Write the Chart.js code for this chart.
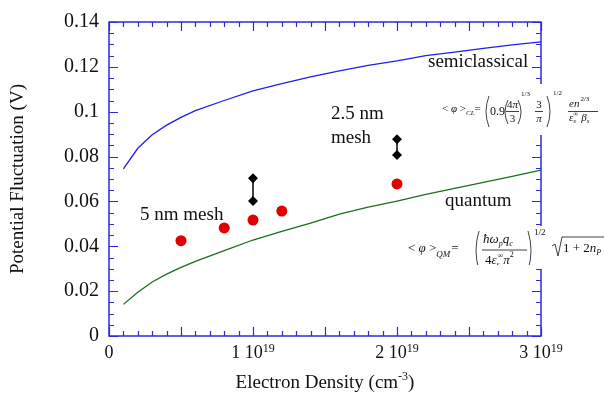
<!DOCTYPE html>
<html>
<head>
<meta charset="utf-8">
<script src="https://cdn.jsdelivr.net/npm/chart.js@4"></script>
<style>
  html, body { margin: 0; padding: 0; background: #fff; }
  #wrap { width: 605px; height: 400px; }
</style>
</head>
<body>
<div id="wrap"><canvas id="fluct"></canvas></div>
<script>
// electron density in units of 1e19 cm^-3
const density = [0.1, 0.2, 0.3, 0.4, 0.5, 0.6, 0.8, 1.0, 1.2, 1.4, 1.6, 1.8, 2.0, 2.2, 2.4, 2.6, 2.8, 3.0];
const semiclassical = [0.0745, 0.0837, 0.0897, 0.0940, 0.0975, 0.1005, 0.1050, 0.1093, 0.1125, 0.1155, 0.1182, 0.1207, 0.1227, 0.1250, 0.1266, 0.1282, 0.1298, 0.1311];
const quantum = [0.0141, 0.0195, 0.0241, 0.0276, 0.0306, 0.0333, 0.0381, 0.0428, 0.0467, 0.0503, 0.0543, 0.0575, 0.0601, 0.0631, 0.0658, 0.0685, 0.0712, 0.0740];

// 5 nm mesh simulation
const mesh5Density = [0.5, 0.8, 1.0, 1.2, 2.0];
const mesh5 = [0.0425, 0.0482, 0.0517, 0.0557, 0.0678];

// 2.5 nm mesh simulation (two runs per density)
const mesh25Density = [1.0, 2.0];
const mesh25Low = [0.0602, 0.0807];
const mesh25High = [0.0703, 0.0877];

const xTicks = [0, 1, 2, 3];

const SERIF = '"Liberation Serif", "Times New Roman", serif';
const AXIS_BLUE = '#2a2ae0';
const INK = '#111';

const pairs = (xs, ys) => xs.map((x, i) => ({ x, y: ys[i] }));

const mesh25Sets = mesh25Density.map((d, i) => ({
    data: [{ x: d, y: mesh25Low[i] }, { x: d, y: mesh25High[i] }],
    showLine: true,
    borderColor: '#000',
    borderWidth: 1.5,
    backgroundColor: '#000',
    pointStyle: 'rectRot',
    pointRadius: 5,
    pointBorderWidth: 0
}));

function put(ctx, s, x, y, size, italic, align) {
    ctx.font = (italic ? 'italic ' : '') + size + 'px ' + SERIF;
    ctx.textAlign = align || 'left';
    ctx.fillText(s, x, y);
    return x + ctx.measureText(s).width;
}

function paren(ctx, x, top, bot, right) {
    const b = right ? 4 : -4;
    ctx.beginPath();
    ctx.moveTo(x - b / 2, top);
    ctx.quadraticCurveTo(x + b, (top + bot) / 2, x - b / 2, bot);
    ctx.stroke();
}

function bar(ctx, x1, x2, y) {
    ctx.beginPath();
    ctx.moveTo(x1, y);
    ctx.lineTo(x2, y);
    ctx.stroke();
}

// frame, inward ticks, x labels, annotations and the two formulas
const decorations = {
    id: 'decorations',
    afterDraw(chart) {
        const { ctx, chartArea: a, scales: { x, y } } = chart;
        ctx.save();

        // frame
        ctx.strokeStyle = AXIS_BLUE;
        ctx.lineWidth = 1.5;
        ctx.strokeRect(a.left, a.top, a.right - a.left, a.bottom - a.top);

        ctx.lineWidth = 1.2;
        ctx.beginPath();
        for (let i = 0; i <= 30; i++) {
            const px = Math.round(x.getPixelForValue(i / 10)) + 0.5;
            const len = i % 5 === 0 ? 9 : 5;
            ctx.moveTo(px, a.bottom); ctx.lineTo(px, a.bottom - len);
            ctx.moveTo(px, a.top); ctx.lineTo(px, a.top + len);
        }
        for (let i = 0; i <= 28; i++) {
            const py = Math.round(y.getPixelForValue(i * 0.005)) + 0.5;
            const len = i % 4 === 0 ? 9 : 5;
            ctx.moveTo(a.left, py); ctx.lineTo(a.left + len, py);
            ctx.moveTo(a.right, py); ctx.lineTo(a.right - len, py);
        }
        ctx.stroke();

        ctx.fillStyle = INK;
        ctx.strokeStyle = INK;
        ctx.textBaseline = 'alphabetic';

        // x tick labels "n 10^19"
        xTicks.forEach(v => {
            const px = x.getPixelForValue(v);
            if (v === 0) {
                put(ctx, '0', px, 358, 18, false, 'center');
                return;
            }
            ctx.font = '18px ' + SERIF;
            const w1 = ctx.measureText(v + ' 10').width;
            ctx.font = '12px ' + SERIF;
            const w2 = ctx.measureText('19').width;
            const start = px - (w1 + w2) / 2;
            const end = put(ctx, v + ' 10', start, 358, 18);
            put(ctx, '19', end, 352, 12);
        });

        // x axis title
        {
            ctx.font = '19px ' + SERIF;
            const wa = ctx.measureText('Electron Density (cm').width;
            const wc = ctx.measureText(')').width;
            ctx.font = '12px ' + SERIF;
            const wb = ctx.measureText('-3').width;
            const cx = (a.left + a.right) / 2;
            let px = cx - (wa + wb + wc) / 2;
            px = put(ctx, 'Electron Density (cm', px, 388, 19);
            px = put(ctx, '-3', px, 380, 12);
            put(ctx, ')', px, 388, 19);
        }

        // series annotations
        put(ctx, 'semiclassical', 428, 67, 19);
        put(ctx, 'quantum', 445, 206, 19);
        put(ctx, '5 nm mesh', 140, 220, 19);
        put(ctx, '2.5 nm', 331, 119, 19);
        put(ctx, 'mesh', 331, 143, 19);

        ctx.lineWidth = 0.8;

        // semiclassical formula
        ctx.fillStyle = '#fff';
        ctx.fillRect(440, 84, 165, 51);
        ctx.fillStyle = INK;
        let cx = put(ctx, '< ', 442, 112, 11);
        cx = put(ctx, 'φ', cx, 112, 11, true);
        cx = put(ctx, ' >', cx, 112, 11);
        cx = put(ctx, 'CL', cx, 115, 7, true);
        put(ctx, '=', cx, 112, 11);
        paren(ctx, 487, 96, 127, false);
        put(ctx, '0.9', 490, 115, 12);
        paren(ctx, 506, 100, 124, false);
        cx = put(ctx, '4', 507, 108, 11);
        put(ctx, 'π', cx, 108, 11, true);
        bar(ctx, 506, 519, 111.5);
        put(ctx, '3', 512.5, 122, 11, false, 'center');
        paren(ctx, 520, 100, 124, true);
        put(ctx, '1/3', 521, 96, 7);
        put(ctx, '3', 539, 108, 11, false, 'center');
        bar(ctx, 535, 543, 111.5);
        put(ctx, 'π', 539, 122, 11, true, 'center');
        paren(ctx, 549, 96, 127, true);
        put(ctx, '1/2', 553, 95, 7);
        cx = put(ctx, 'en', 569, 107, 11, true);
        put(ctx, '2/3', cx + 1, 101, 7);
        bar(ctx, 568, 598, 111.5);
        cx = put(ctx, 'ε', 569, 121, 11, true);
        put(ctx, 's', cx, 123, 7, true);
        put(ctx, '∞', cx, 116, 7);
        cx = put(ctx, 'β', cx + 8, 121, 11, true);
        put(ctx, 's', cx, 123, 7, true);

        // quantum formula, clipped at the bottom of its box
        ctx.fillStyle = '#fff';
        ctx.fillRect(404, 226, 201, 43);
        ctx.save();
        ctx.beginPath();
        ctx.rect(404, 226, 201, 39);
        ctx.clip();
        ctx.fillStyle = INK;
        ctx.strokeStyle = INK;
        cx = put(ctx, '< ', 408, 252, 13);
        cx = put(ctx, 'φ', cx, 252, 13, true);
        cx = put(ctx, ' >', cx, 252, 13);
        cx = put(ctx, 'QM', cx, 257, 9, true);
        put(ctx, '=', cx + 1, 252, 13);
        paren(ctx, 477, 231, 270, false);
        cx = put(ctx, 'ħω', 483, 243, 13, true);
        cx = put(ctx, 'p', cx, 246, 8, true);
        cx = put(ctx, 'q', cx, 243, 13, true);
        put(ctx, 'c', cx, 246, 8, true);
        bar(ctx, 482, 527, 250);
        cx = put(ctx, '4', 485, 264, 13);
        cx = put(ctx, 'ε', cx, 264, 13, true);
        put(ctx, 's', cx, 267, 8, true);
        cx = put(ctx, '∞', cx + 1, 258, 8);
        cx = put(ctx, 'π', cx, 264, 13, true);
        put(ctx, '2', cx, 257, 8);
        paren(ctx, 530, 231, 270, true);
        ctx.restore();
        ctx.fillStyle = INK;
        ctx.strokeStyle = INK;
        put(ctx, '1/2', 534, 235, 9);
        ctx.beginPath();
        ctx.moveTo(552, 246);
        ctx.lineTo(555, 244);
        ctx.lineTo(558, 256);
        ctx.lineTo(562, 237);
        ctx.lineTo(604, 237);
        ctx.stroke();
        cx = put(ctx, '1 + 2', 563, 252, 13);
        cx = put(ctx, 'n', cx, 252, 13, true);
        put(ctx, 'P', cx, 255, 8, true);

        ctx.restore();
    }
};

new Chart(document.getElementById('fluct'), {
    type: 'scatter',
    data: {
        datasets: [
            {
                data: pairs(density, semiclassical),
                showLine: true,
                borderColor: '#1f1fe8',
                borderWidth: 1.3,
                pointRadius: 0,
                tension: 0
            },
            {
                data: pairs(density, quantum),
                showLine: true,
                borderColor: '#1d6e1d',
                borderWidth: 1.3,
                pointRadius: 0,
                tension: 0
            },
            {
                data: pairs(mesh5Density, mesh5),
                backgroundColor: '#e00000',
                pointRadius: 5.5,
                pointBorderWidth: 0
            },
            ...mesh25Sets
        ]
    },
    options: {
        responsive: true,
        maintainAspectRatio: false,
        animation: false,
        layout: { padding: { top: 11, right: 64, bottom: 0, left: 0 } },
        plugins: { legend: { display: false }, tooltip: { enabled: false } },
        scales: {
            x: {
                type: 'linear',
                min: 0,
                max: 3,
                grid: { display: false, drawTicks: false },
                border: { display: false },
                ticks: { display: false },
                afterFit: s => { s.height = 64; }
            },
            y: {
                min: 0,
                max: 0.14,
                grid: { display: false, drawTicks: false },
                border: { display: false },
                ticks: {
                    stepSize: 0.02,
                    padding: 10,
                    color: INK,
                    font: { family: SERIF, size: 20 },
                    callback: v => String(Number(v.toFixed(2)))
                },
                title: {
                    display: true,
                    text: 'Potential Fluctuation (V)',
                    color: INK,
                    font: { family: SERIF, size: 19 },
                    padding: { top: 7, bottom: 0 }
                },
                afterFit: s => { s.width = 109; }
            }
        }
    },
    plugins: [decorations]
});
</script>
</body>
</html>
